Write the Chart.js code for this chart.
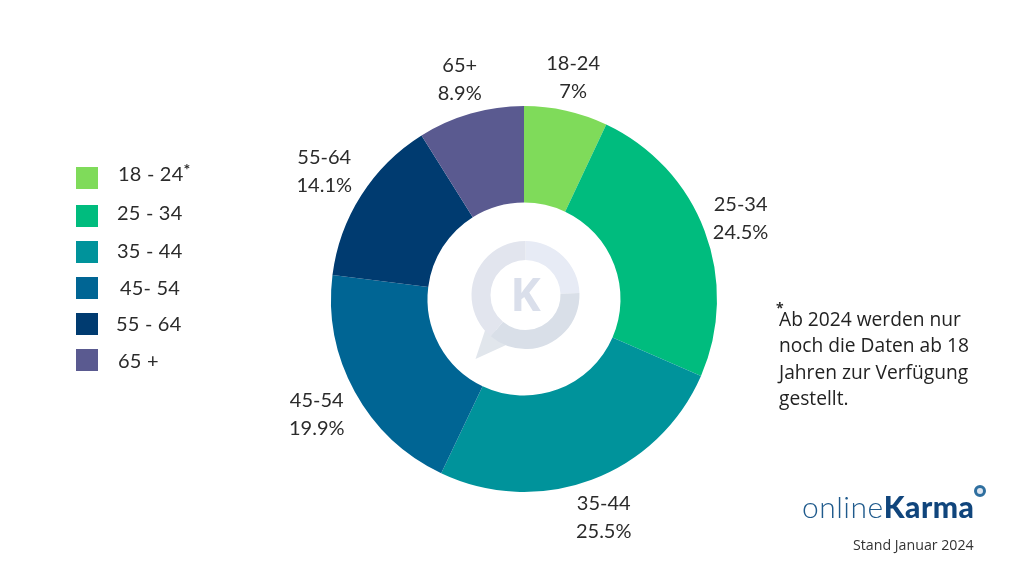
<!DOCTYPE html>
<html lang="de"><head><meta charset="utf-8">
<script src="https://cdn.jsdelivr.net/npm/chart.js@4"></script>
<style>
html,body{margin:0;padding:0;background:#fff;width:1024px;height:576px;overflow:hidden}
#wrap{position:relative;width:1024px;height:576px}
canvas{position:absolute;left:0;top:0}
.t{position:absolute;white-space:nowrap;color:#2b2b2b}
.lg{font:20px Lato,sans-serif;letter-spacing:.2px;line-height:24px}
.sw{position:absolute;width:22px;height:22px;left:76px}
sup{font-size:16px;line-height:0;position:relative;top:2px;vertical-align:super;font-weight:700}
#note{left:779px;top:306px;font:19.2px/26.3px "Open Sans",sans-serif;color:#222}
#star{left:776px;top:298px;font:14px "Open Sans",sans-serif;font-weight:700}
#stand{left:853px;top:535px;font:14.2px "Open Sans",sans-serif;color:#333}
#brand{left:802px;top:488px;font:30px/36px Lato,sans-serif;color:#1f5a8c;letter-spacing:.5px}
#brand span{font-weight:300}#brand b{font-weight:900;color:#10457c}
#dot{position:absolute;left:974px;top:485px;width:6px;height:6px;border:3px solid #2f6f9f;border-radius:50%;background:#dfe6f0}
</style></head><body><div id="wrap">
<canvas id="c" width="1024" height="576"></canvas>
<div id="legend"></div>
<div class="t" id="star">*</div>
<div class="t" id="note">Ab 2024 werden nur<br>noch die Daten ab 18<br>Jahren zur Verfügung<br>gestellt.</div>
<div class="t" id="brand"><span>online</span><b>Karma</b></div><div id="dot"></div>
<div class="t" id="stand">Stand Januar 2024</div>
</div>
<script>
const categories = ["18-24","25-34","35-44","45-54","55-64","65+"];
const shares = [7, 24.5, 25.5, 19.9, 14.1, 8.9];
const shareLabels = ["7%","24.5%","25.5%","19.9%","14.1%","8.9%"];
const colors = ["#7fdb5a","#00bc7e","#00939b","#006594","#003b70","#5a5a90"];
const legendLabels = ["18 - 24","25 - 34","35 - 44","45- 54","55 - 64","65 +"];
const legendX = [118,117,117,120,116,118];
const legendTop = [167,205,241,277,313,349];
const legendTextTop = [161,200,238,275,311,348];
const labelOffsetX = [7,36,12,-38,-37,-11];
const labelOffsetY = [-33,-12,38,23,-24,-34];

const lg = document.getElementById('legend');
legendLabels.forEach((s,i)=>{
  const sw=document.createElement('div');sw.className='sw';sw.style.top=legendTop[i]+'px';sw.style.background=colors[i];lg.appendChild(sw);
  const t=document.createElement('div');t.className='t lg';t.style.left=legendX[i]+'px';t.style.top=legendTextTop[i]+'px';
  t.innerHTML=s+(i===0?'<sup>*</sup>':'');lg.appendChild(t);
});

const decor = {
  id:'decor',
  afterDatasetsDraw(chart){
    const g=chart.ctx, m=chart.getDatasetMeta(0);
    g.save();
    g.fillStyle='#2b2b2b'; g.textAlign='center'; g.textBaseline='middle';
    g.font='20px Lato, sans-serif';
    m.data.forEach((a,i)=>{
      const mid=(a.startAngle+a.endAngle)/2;
      const x=a.x+Math.cos(mid)*a.outerRadius+labelOffsetX[i];
      const y=a.y+Math.sin(mid)*a.outerRadius+labelOffsetY[i];
      g.fillText(categories[i],x,y-14);
      g.fillText(shareLabels[i],x,y+14);
    });
    const cx=m.data[0].x+1.5, cy=m.data[0].y-4, R=54, r=35;
    const ring=(a0,a1,c)=>{g.beginPath();g.arc(cx,cy,R,a0,a1);g.arc(cx,cy,r,a1,a0,true);g.closePath();g.fillStyle=c;g.fill();};
    const d=Math.PI/180;
    g.beginPath();g.moveTo(cx-38,cy+28);g.lineTo(cx-50,cy+64);g.lineTo(cx-15,cy+48);g.closePath();g.fillStyle='#e1e6ec';g.fill();
    ring(-90*d,-2*d,'#e7ebf5');
    ring(-2*d,130*d,'#d9dfe8');
    ring(130*d,270*d,'#e2e5ee');
    g.fillStyle='#dadfeb';g.font='bold 46px "Open Sans", sans-serif';g.textAlign='center';g.textBaseline='middle';
    g.fillText('K',cx,cy+3);
    g.restore();
  }
};

new Chart(document.getElementById('c'),{
  type:'doughnut',
  data:{labels:categories,datasets:[{data:shares,backgroundColor:colors,borderWidth:0}]},
  options:{
    responsive:false,animation:false,cutout:'50%',
    layout:{padding:{left:331,right:307,top:106,bottom:84}},
    plugins:{legend:{display:false},tooltip:{enabled:false}}
  },
  plugins:[decor]
});
</script></body></html>
